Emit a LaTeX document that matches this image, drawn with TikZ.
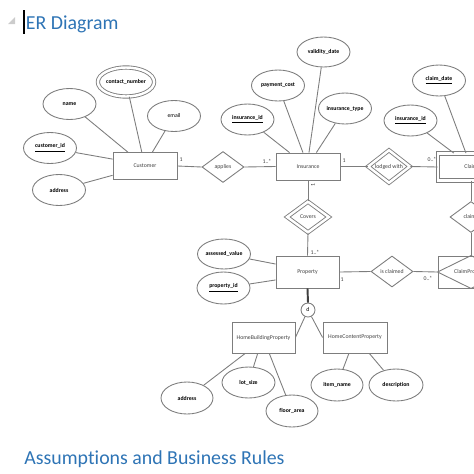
\documentclass[tikz,border=0pt]{standalone}
\usepackage{fontspec}
\setmainfont{Carlito}[Ligatures=CommonOff]
\usetikzlibrary{shapes}
\definecolor{linegray}{RGB}{125,125,125}
\definecolor{headblue}{RGB}{46,116,181}
\newcommand{\erfont}{\fontsize{3.3}{4}\selectfont}
\newcommand{\headfont}{\fontsize{11.3}{14}\selectfont}
\tikzset{
	entity/.style={draw=linegray, rectangle, minimum width=1.28cm, minimum height=0.54cm, inner sep=0pt, font=\erfont, text=black!75},
	attrib/.style={draw=linegray, ellipse, minimum width=1.06cm, minimum height=0.62cm, inner sep=0pt, font=\erfont\bfseries},
	relation/.style={draw=linegray, diamond, minimum width=0.84cm, minimum height=0.62cm, inner sep=0pt, font=\erfont, text=black!75},
	weak/.style={double=white, double distance=1.4pt},
	mult/.style={font=\erfont, inner sep=0pt, text=black!75},
	link/.style={draw=linegray},
	heading/.style={anchor=base west, inner sep=0pt, font=\headfont, text=headblue},
}

\begin{document}
\begin{tikzpicture}[x=0.02cm, y=-0.02cm, line width=0.5pt]
		\useasboundingbox (0,0) rectangle (474,474);
		\clip (0,0) rectangle (474,474);
		
		\fill[gray!40] (15,17) -- (15,24) -- (8,24) -- cycle;
		\draw[black, line width=0.6pt] (24,10) -- (24,34);
		\node[heading] (title) at (25.5,29) {ER Diagram};
		\node[heading] (rules) at (24,464) {Assumptions and Business Rules};
		
		\begin{scope}
			\node[entity] (cust) at (145,166) {Customer};
			\node[entity] (ins) at (308,166.5) {Insurance};
			\node[entity, weak, minimum width=1.32cm] (claim) at (471,167) {Claim};
			\node[entity, minimum width=1.26cm, minimum height=0.64cm] (prop) at (307.5,272) {Property};
			\node[entity, minimum width=1.32cm, minimum height=0.64cm] (cprop) at (471,272) {ClaimProperty};
			\draw[link] (cprop.west) -- (cprop.north) -- (cprop.east) -- (cprop.south) -- cycle;
			
			\node[relation] (app) at (223,167) {applies};
			\node[relation, weak] (lodg) at (389,166.5) {lodged with};
			\node[relation, weak] (cov) at (308,217) {Covers};
			\node[relation] (clm) at (471,217) {claims};
			\node[relation] (iscl) at (392,271.5) {is claimed};
		\end{scope}
		
		\begin{scope}
			\node[attrib] (cname) at (69.5,104) {name};
			\node[attrib, weak, minimum width=0.94cm, minimum height=0.58cm] (cnum) at (126,82) {contact\_number};
			\node[attrib, font=\erfont] (cmail) at (174,116) {email};
			\node[attrib] (cid) at (50,148) {\underline{customer\_id}};
			\node[attrib] (caddr) at (59,190) {address};
			
			\node[attrib, minimum height=0.6cm] (ivd) at (323.5,52) {validity\_date};
			\node[attrib] (ipc) at (278,85.5) {payment\_cost};
			\node[attrib] (iid) at (247.5,119.5) {\underline{insurance\_id}};
			\node[attrib] (itype) at (345,108.5) {insurance\_type};
			
			\node[attrib] (cdate) at (439,80.5) {\underline{claim\_date}};
			\node[attrib] (clid) at (410.5,120.5) {\underline{insurance\_id}};
			
			\node[attrib, minimum height=0.6cm] (pval) at (224,254) {assessed\_value};
			\node[attrib, minimum height=0.64cm] (pid) at (223.5,288) {\underline{property\_id}};
		\end{scope}
		
		\draw[link] (cname) -- (cust.141);
		\draw[link] (cnum) -- (cust.103);
		\draw[link] (cmail) -- (cust.62);
		\draw[link] (cid) -- (cust.168);
		\draw[link] (caddr) -- (cust.196);
		
		\draw[link] (iid) -- (ins.143);
		\draw[link] (ipc) -- (ins.110);
		\draw[link] (ivd) -- (ins.86);
		\draw[link] (itype) -- (ins.59);
		
		\draw[link] (clid) -- (claim.141);
		\draw[link] (cdate) -- (claim.110);
		
		\draw[link] (pval) -- (prop.166);
		\draw[link] (pid) -- (prop.194);
		
		\draw[link] (cust.east) -- (app.west);
		\draw[link] (app.east) -- (ins.west);
		\draw[link] (ins.east) -- (lodg.west);
		\draw[link] (lodg.east) -- (claim.west);
		\draw[link] (ins.south) -- (cov.north);
		\draw[link] (cov.south) -- (prop.north);
		\draw[link] (prop.east) -- (iscl.west);
		\draw[link] (iscl.east) -- (cprop.west);
		\draw[link] (claim.south) -- (clm.north);
		\draw[link] (clm.south) -- (cprop.north);
		
		\node[mult] (m1) at (181,160) {1};
		\node[mult] (m2) at (267,161) {1..*};
		\node[mult] (m3) at (344,161) {1};
		\node[mult] (m4) at (432,159) {0..*};
		\node[mult, rotate=90] (m5) at (313,185) {1};
		\node[mult] (m6) at (315,252) {1..*};
		\node[mult] (m7) at (342,280) {1};
		\node[mult] (m8) at (428,278) {0..*};
		
		\begin{scope}
			\node[draw=linegray, circle, minimum size=0.28cm, inner sep=0pt, font=\erfont] (disj) at (308,310) {d};
			\node[entity, minimum width=1.26cm, minimum height=0.62cm] (hbp) at (263.5,337.5) {HomeBuildingProperty};
			\node[entity, minimum width=1.28cm, minimum height=0.62cm] (hcp) at (355,337.5) {HomeContentProperty};
			
			\node[attrib, minimum width=1.04cm, minimum height=0.64cm] (baddr) at (187,398) {address};
			\node[attrib] (blot) at (248.5,382.5) {lot\_size};
			\node[attrib, minimum width=1.04cm, minimum height=0.64cm] (bfloor) at (292,411) {floor\_area};
			\node[attrib, minimum width=1.04cm, minimum height=0.64cm] (citem) at (337,385) {item\_name};
			\node[attrib, minimum width=1.08cm, minimum height=0.64cm] (cdesc) at (396,385) {description};
		\end{scope}
		
		\draw[line width=1.1pt, black!75] (prop.south) -- (disj.north);
		\draw[link] (disj) -- (hbp.east);
		\draw[link] (disj) -- (hcp.west);
		\draw[link] (baddr) -- (hbp.221);
		\draw[link] (blot) -- (hbp.250);
		\draw[link] (bfloor) -- (hbp.290);
		\draw[link] (citem) -- (hcp.249);
		\draw[link] (cdesc) -- (hcp.312);
\end{tikzpicture}
\end{document}
